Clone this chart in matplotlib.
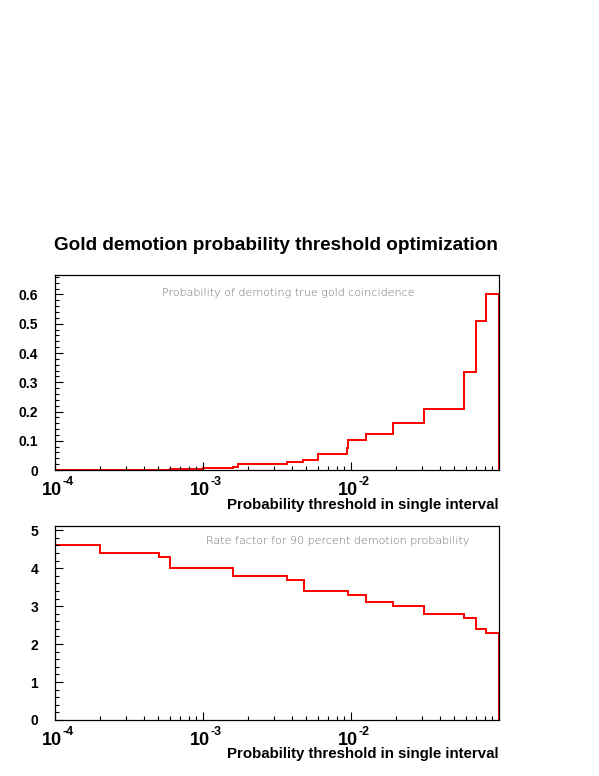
import numpy as np
import matplotlib
matplotlib.use('Agg')
from matplotlib import pyplot as plt
from matplotlib.ticker import MultipleLocator, LogLocator, NullFormatter, FixedLocator
import matplotlib.transforms as mtrans

plt.rcParams['font.family'] = ['Liberation Sans', 'DejaVu Sans']

title = 'Gold demotion probability threshold optimization'
xlabel = 'Probability threshold in single interval'

# top panel: probability of demoting a true gold coincidence
edges_top = [1e-4, 6e-4, 1e-3, 1.6e-3, 1.72e-3, 3.72e-3, 4.74e-3, 6.0e-3, 9.4e-3,
             9.6e-3, 1.26e-2, 1.91e-2, 3.13e-2, 5.81e-2, 7.0e-2, 8.15e-2, 0.1]
vals_top = [0.001, 0.003, 0.007, 0.011, 0.019, 0.026, 0.034, 0.054, 0.076,
            0.101, 0.123, 0.162, 0.209, 0.334, 0.511, 0.600]
text_top = 'Probability of demoting true gold coincidence'

# bottom panel: rate factor
edges_bot = [1e-4, 2e-4, 5.06e-4, 6e-4, 1.6e-3, 3.72e-3, 4.79e-3, 9.6e-3,
             1.26e-2, 1.91e-2, 3.13e-2, 5.81e-2, 7.0e-2, 8.15e-2, 0.1]
vals_bot = [4.6, 4.4, 4.3, 4.0, 3.8, 3.7, 3.4, 3.3, 3.1, 3.0, 2.8, 2.7, 2.4, 2.3]
text_bot = 'Rate factor for 90 percent demotion probability'

xtick_exp = [-4, -3, -2]

fig = plt.figure(figsize=(5.99, 7.76), dpi=100)
fig.text(0.461, 0.683, title, ha='center', va='center', fontsize=13.6, fontweight='bold')

ax1 = fig.add_axes([0.0918, 0.3943, 0.7412, 0.2507])
ax2 = fig.add_axes([0.0918, 0.0722, 0.7412, 0.2494])


def style(ax, ymax, major, minor, text, tx, ty):
    ax.set_xscale('log')
    ax.set_xlim(1e-4, 0.1)
    ax.set_ylim(0, ymax)
    ax.yaxis.set_major_locator(MultipleLocator(major))
    ax.yaxis.set_minor_locator(MultipleLocator(minor))
    ax.xaxis.set_major_locator(FixedLocator([10.0**e for e in xtick_exp]))
    ax.xaxis.set_minor_locator(LogLocator(base=10, subs=np.arange(2, 10)))
    ax.xaxis.set_major_formatter(NullFormatter())
    ax.xaxis.set_minor_formatter(NullFormatter())
    ax.tick_params(which='both', direction='in', top=False, right=False, width=0.8)
    ax.tick_params(which='major', length=6)
    ax.tick_params(which='minor', length=3)
    ax.tick_params(axis='y', labelsize=10, pad=12)
    for s in ax.spines.values():
        s.set_linewidth(0.9)
    # ROOT-like 10^n labels
    tr = mtrans.blended_transform_factory(ax.transData, ax.transAxes)
    for e in xtick_exp:
        off = mtrans.offset_copy(tr, fig=fig, x=-3, y=-12, units='dots')
        ax.text(10.0**e, 0, '10', transform=off, ha='center', va='top',
                fontsize=13, fontweight='bold')
        off2 = mtrans.offset_copy(tr, fig=fig, x=8, y=-6, units='dots')
        ax.text(10.0**e, 0, str(e), transform=off2, ha='left', va='top',
                fontsize=9, fontweight='bold')
    ax.text(1.0, -0.142, xlabel, transform=ax.transAxes, ha='right', va='top',
            fontsize=10.8, fontweight='bold')
    ax.text(tx, ty, text, transform=ax.transAxes, ha='center', va='center',
            fontsize=8, color='#6e6e6e', family='DejaVu Sans', fontweight='light')


ax1.stairs(vals_top, edges_top, baseline=0, color='red', lw=1.4)
style(ax1, 0.665, 0.1, 0.02, text_top, 0.525, 0.91)
ax1.set_yticks([0, 0.1, 0.2, 0.3, 0.4, 0.5, 0.6])
ax1.set_yticklabels(['0', '0.1', '0.2', '0.3', '0.4', '0.5', '0.6'], fontweight='bold')

ax2.stairs(vals_bot, edges_bot, baseline=0, color='red', lw=1.4)
style(ax2, 5.1, 1, 0.2, text_bot, 0.638, 0.925)
ax2.set_yticks([0, 1, 2, 3, 4, 5])
ax2.set_yticklabels(['0', '1', '2', '3', '4', '5'], fontweight='bold')

fig.savefig('out.png', dpi=100)
